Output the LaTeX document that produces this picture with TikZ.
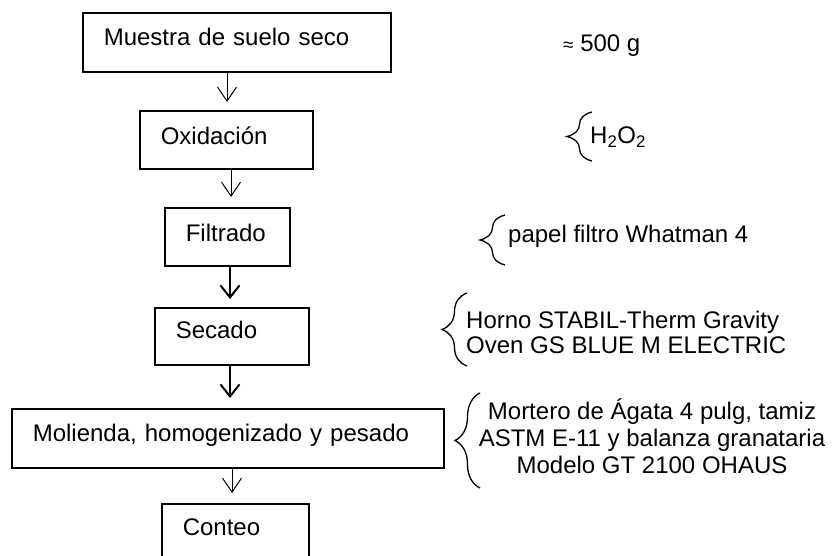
\documentclass[tikz,border=0pt]{standalone}
\usepackage{fontspec}
\setmainfont{Liberation Sans}
\usetikzlibrary{arrows.meta,decorations.pathreplacing}
\begin{document}
\begin{tikzpicture}[x=1pt,y=-1pt,
  every node/.style={font=\fontsize{24}{27}\selectfont},
  box/.style={draw, line width=1.6pt, anchor=north west, inner xsep=21pt, inner ysep=0pt, align=left, text height=33pt},
  thinarr/.style={line width=1pt, -{Straight Barb[length=14pt,width=19pt]}},
  thickarr/.style={line width=2pt, -{Straight Barb[length=12pt,width=19pt]}},
  note/.style={inner sep=0pt},
  brc/.style={decorate, decoration={brace, amplitude=25pt}, line width=1.3pt}]

\useasboundingbox (0,0) rectangle (832,556);
\clip (0,0) rectangle (832,556);
\fill[white] (0,0) rectangle (832,556);

% process boxes
\node[box, text width=266pt, text depth=26pt] (b1) at (82,12) {Muestra de suelo seco};
\node[box, text width=131pt, text height=34pt, text depth=24pt] (b2) at (139,110) {Oxidación};
\node[box, text width=83pt, text height=34pt, text depth=24pt] (b3) at (164,207) {Filtrado};
\node[box, text width=112pt, text height=31pt, text depth=26pt] (b4) at (154,307) {Secado};
\node[box, text width=390pt, text depth=26pt] (b5) at (11,408) {Molienda, homogenizado y pesado};
\node[box, text width=105pt, text height=32pt, text depth=30pt] (b6) at (161,503) {Conteo};

% arrows
\draw[thinarr, shorten >=8pt] (b1.south -| 227,0) -- (b2.north -| 227,0);
\draw[thinarr, shorten >=10pt] (b2.south -| 231,0) -- (b3.north -| 231,0);
\draw[thickarr, shorten >=8pt] (b3.south -| 230,0) -- (b4.north -| 230,0);
\draw[thickarr, shorten >=10pt] (b4.south -| 230,0) -- (b5.north -| 230,0);
\draw[thinarr, shorten >=10pt] (b5.south -| 232,0) -- (b6.north -| 232,0);

% notes
\node[note, anchor=base west] (n1) at (563,52) {{\fontsize{19}{19}\selectfont ≈} 500 g};
\node[note, anchor=base west] (n2) at (590,144) {H\textsubscript{2}O\textsubscript{2}};
\node[note, anchor=base west] (n3) at (508,242) {papel filtro Whatman 4};
\node[note, anchor=base west, align=left, font=\fontsize{24}{25}\selectfont] (n4) at (466,353) {Horno STABIL-Therm Gravity\\Oven GS BLUE M ELECTRIC};
\node[note, anchor=base, align=center, font=\fontsize{24}{27}\selectfont] (n5) at (652,473) {Mortero de Ágata 4 pulg, tamiz\\ASTM E-11 y balanza granataria\\Modelo GT 2100 OHAUS};

% braces
\draw[brc] (592,161) -- (592,112);
\draw[brc] (505,265) -- (505,215);
\draw[brc] (467,366) -- (467,293);
\draw[brc] (480,488) -- (480,393);
\end{tikzpicture}
\end{document}
